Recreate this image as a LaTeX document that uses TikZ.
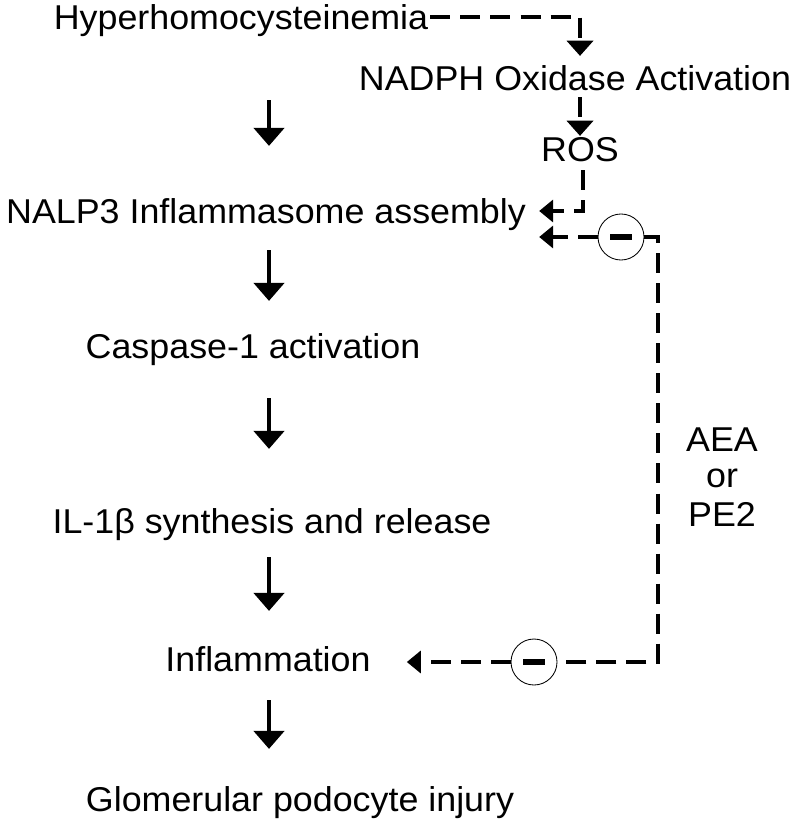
\documentclass[tikz,border=0pt]{standalone}
\usepackage{fontspec}
\setmainfont[FakeStretch=1.04]{Liberation Sans}
\usetikzlibrary{arrows.meta}

\tikzset{
  lbl/.style={anchor=base, inner sep=0pt, text height=0.62cm, text depth=0pt, font=\fontsize{24.5}{29}\selectfont},
  flow/.style={line width=0.11cm, -{Triangle[width=0.75cm,length=0.45cm]}},
  dashline/.style={line width=0.11cm, dash pattern=on 0.5cm off 0.25cm},
  dashflow/.style={dashline, -{Triangle[width=0.65cm,length=0.38cm]}},
  dashleft/.style={dashline, -{Triangle[width=0.55cm,length=0.35cm]}},
  inhib/.style={circle, draw, line width=0.6pt, fill=white, minimum size=1.15cm, inner sep=0pt}
}

\begin{document}
\begin{tikzpicture}[x=0.025cm, y=-0.025cm]
\useasboundingbox (0,0) rectangle (800,827);
% main pathway
\node[lbl] (hyper) at (241,30) {Hyperhomocysteinemia};
\node[lbl] (nalp) at (266,223) {NALP3 Inflammasome assembly};
\node[lbl] (casp) at (253,358) {Caspase-1 activation};
\node[lbl] (il) at (272,533) {IL-1β synthesis and release};
\node[lbl] (infl) at (268,671) {Inflammation};
\node[lbl] (glom) at (300,811) {Glomerular podocyte injury};
% side branch
\node[lbl] (nadph) at (575,91) {NADPH Oxidase Activation};
\node[lbl] (ros) at (580,161) {ROS};
\node[lbl] (aea) at (722,451) {AEA};
\node[lbl] (aeaor) at (722,487) {or};
\node[lbl] (pe) at (722,526) {PE2};
% inhibition marks
\node[inhib] (minus1) at (621,237) {\rule[-0.08cm]{0.55cm}{0.16cm}};
\node[inhib] (minus2) at (534,662) {\rule[-0.08cm]{0.55cm}{0.16cm}};
\coordinate (col) at (269,0);
\coordinate (k1) at (580,17);
\coordinate (k2) at (583,211);
\coordinate (k3) at (658,237);
\coordinate (k4) at (658,662);
% solid arrows
\draw[flow, shorten <=1.75cm, shorten >=1.3cm] (hyper.south -| col) -- (nalp.north -| col);
\draw[flow, shorten <=0.675cm, shorten >=0.8cm] (nalp.south -| col) -- (casp.north -| col);
\draw[flow, shorten <=1cm, shorten >=1.475cm] (casp.south -| col) -- (il.north -| col);
\draw[flow, shorten <=0.6cm, shorten >=0.875cm] (il.south -| col) -- (infl.north -| col);
\draw[flow, shorten <=0.725cm, shorten >=0.925cm] (infl.south -| col) -- (glom.north -| col);
% dashed arrows
\draw[dashflow, shorten <=0.05cm, shorten >=0.25cm] (hyper.east |- k1) -- (k1) -- (nadph.north -| k1);
\draw[dashflow, shorten <=0.15cm, shorten >=0cm] (nadph.south -| k1) -- (ros.north -| k1);
\draw[dashleft, shorten <=0.225cm, shorten >=0.325cm] (ros.south -| k2) -- (k2) -- (nalp.east |- k2);
\draw[dashline] (minus1) -- (k3) -- (k4) -- (minus2);
\draw[dashleft, shorten >=0.325cm] (minus1) -- (nalp.east |- minus1);
\draw[dashleft, shorten >=0.9cm] (minus2) -- (infl.east |- minus2);
\end{tikzpicture}
\end{document}
